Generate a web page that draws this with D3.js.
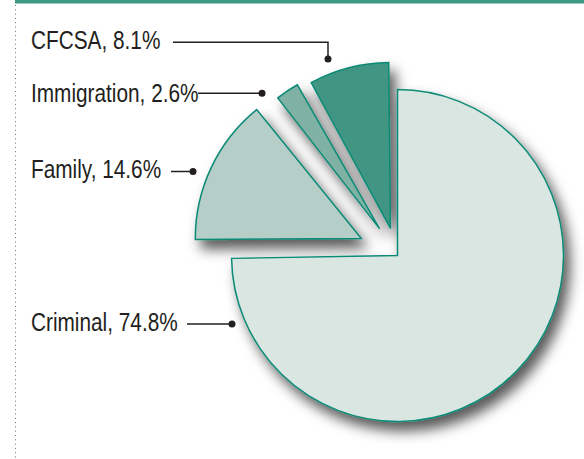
<!DOCTYPE html>
<html>
<head>
<meta charset="utf-8">
<script src="https://cdn.jsdelivr.net/npm/d3@7"></script>
<style>
  html, body { margin: 0; padding: 0; background: #fff; }
  svg { display: block; }
</style>
</head>
<body>
<div id="chart"></div>
<script>
"use strict";

// Data
const categories = ["Criminal", "Family", "Immigration", "CFCSA"];
const shares = [74.8, 14.6, 2.6, 8.1];

// Styling per slice
const fills = ["#d9e6e2", "#b5cfc8", "#7fb2a4", "#409682"];
const explode = [0, 40, 32, 28];

// Label layout (baseline of text, leader line points)
const labelY = [331, 178, 101.5, 49];
const leaders = [
  [[187, 324], [232, 324]],
  [[171, 171.5], [193, 171.5]],
  [[198, 93.3], [262, 93.3]],
  [[173, 42.3], [328, 42.3], [328, 59]]
];

const width = 584, height = 459;
const cx = 397.5, cy = 255.5, radius = 166;
const inset = 0.6 * Math.PI / 180;
const font = "'Liberation Sans', Arial, sans-serif";
const squeeze = 0.8; // condensed look

const svg = d3.select("#chart").append("svg")
  .attr("width", width)
  .attr("height", height);

// Drop shadow
const defs = svg.append("defs");
const filter = defs.append("filter")
  .attr("id", "shadow")
  .attr("x", "-20%").attr("y", "-20%")
  .attr("width", "150%").attr("height", "150%");
filter.append("feDropShadow")
  .attr("dx", 6)
  .attr("dy", 9)
  .attr("stdDeviation", 6.5)
  .attr("flood-color", "#000")
  .attr("flood-opacity", 0.65);

// Top rule and dotted left border
svg.append("rect")
  .attr("x", 15).attr("y", 0)
  .attr("width", width - 15).attr("height", 3.5)
  .attr("fill", "#3f9884");

svg.append("line")
  .attr("x1", 15.5).attr("x2", 15.5)
  .attr("y1", 5).attr("y2", height)
  .attr("stroke", "#6d6e70")
  .attr("stroke-width", 1)
  .attr("stroke-dasharray", "1,3.3");

// Pie
const data = categories.map((c, i) => ({ name: c, value: shares[i], i: i }));

const pie = d3.pie()
  .sort(null)
  .value(d => d.value);

const arc = d3.arc()
  .innerRadius(0)
  .outerRadius(radius);

const slices = pie(data).map(function(s) {
  if (s.data.i > 0) {
    s.startAngle += inset;
    s.endAngle -= inset;
  }
  return s;
});

const pg = svg.append("g")
  .attr("transform", "translate(" + cx + "," + cy + ")")
  .attr("filter", "url(#shadow)");

pg.selectAll("path")
  .data(slices)
  .enter().append("path")
  .attr("d", arc)
  .attr("transform", function(d) {
    var mid = (d.startAngle + d.endAngle) / 2;
    var e = explode[d.data.i];
    return "translate(" + (Math.sin(mid) * e) + "," + (-Math.cos(mid) * e) + ")";
  })
  .attr("fill", d => fills[d.data.i])
  .attr("stroke", "#0b8a75")
  .attr("stroke-width", 1.5)
  .attr("stroke-linejoin", "miter");

// Labels
const lg = svg.append("g");

data.forEach(function(d, i) {
  lg.append("text")
    .attr("transform", "translate(31," + labelY[i] + ") scale(" + squeeze + ",1)")
    .text(d.name + ", " + d.value + "%")
    .attr("font-family", font)
    .attr("font-size", "26px")
    .attr("fill", "#231f20");

  lg.append("polyline")
    .attr("points", leaders[i].map(p => p.join(",")).join(" "))
    .attr("fill", "none")
    .attr("stroke", "#231f20")
    .attr("stroke-width", 1.5);

  var end = leaders[i][leaders[i].length - 1];
  lg.append("circle")
    .attr("cx", end[0])
    .attr("cy", end[1])
    .attr("r", 3.5)
    .attr("fill", "#231f20");
});
</script>
</body>
</html>
